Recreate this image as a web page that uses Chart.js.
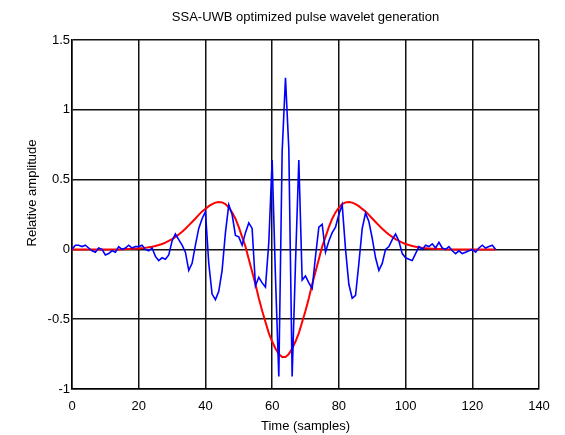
<!DOCTYPE html>
<html>
<head>
<meta charset="utf-8">
<script src="https://cdn.jsdelivr.net/npm/chart.js@4/dist/chart.umd.min.js"></script>
<style>
  html, body { margin: 0; padding: 0; background: #fff; }
  #wrap { width: 565px; height: 435px; }
</style>
</head>
<body>
<div id="wrap"><canvas id="pulse"></canvas></div>
<script>
// ornek numaralari (samples)
const samples = Array.from({ length: 128 }, (_, i) => i);

// mavi: optimize edilmis darbe
const pulseValues = [
   0.00,  0.03,  0.03,  0.02,  0.03,  0.01, -0.01, -0.02,  0.01,  0.00,
  -0.04, -0.03, -0.01, -0.02,  0.02,  0.00,  0.01,  0.03,  0.01,  0.02,
   0.02,  0.03,  0.00, -0.01,  0.01, -0.05, -0.08, -0.06, -0.07, -0.04,
   0.06,  0.11,  0.07,  0.03, -0.02, -0.15, -0.10,  0.03,  0.15,  0.22,
   0.27, -0.10, -0.32, -0.36, -0.30, -0.15,  0.12,  0.32,  0.25,  0.10,
   0.09,  0.03,  0.12,  0.19,  0.15, -0.26, -0.20, -0.24, -0.27,  0.05,
   0.64, -0.20, -0.91,  0.70,  1.23,  0.72, -0.91, -0.10,  0.64, -0.22,
  -0.19, -0.24, -0.28, -0.05,  0.16,  0.18, -0.02,  0.06,  0.12,  0.16,
   0.25,  0.32,  0.00, -0.25, -0.35, -0.33, -0.10,  0.15,  0.26,  0.20,
   0.08, -0.06, -0.15, -0.10,  0.00,  0.02,  0.07,  0.11,  0.06, -0.03,
  -0.06, -0.07, -0.08, -0.03,  0.02,  0.00,  0.03,  0.02,  0.04,  0.01,
   0.05,  0.01,  0.00,  0.02, -0.01, -0.03, -0.01, -0.03, -0.02, -0.01,
   0.00, -0.02,  0.01,  0.03,  0.01,  0.02,  0.03,  0.00
];

// kirmizi: hedef dalga
const targetValues = [
  0, 0, 0, 0, 0, 0, 0, 0, 0, 0,
  0, 0, 0, 0, 0, 0.001, 0.002, 0.003, 0.004, 0.005,
  0.007, 0.009, 0.011, 0.015, 0.019, 0.025, 0.031, 0.039, 0.049, 0.061,
  0.074, 0.09, 0.107, 0.127, 0.148, 0.172, 0.196, 0.221, 0.247, 0.272,
  0.29, 0.31, 0.325, 0.335, 0.34, 0.337, 0.325, 0.30, 0.265, 0.22,
  0.16, 0.09, 0.02, -0.07, -0.16, -0.25, -0.35, -0.44, -0.52, -0.60,
  -0.66, -0.71, -0.75, -0.77, -0.77, -0.75, -0.71, -0.66, -0.60, -0.52,
  -0.44, -0.35, -0.25, -0.16, -0.07, 0.02, 0.09, 0.16, 0.22, 0.265,
  0.30, 0.325, 0.337, 0.34, 0.335, 0.325, 0.31, 0.29, 0.272, 0.247,
  0.221, 0.196, 0.172, 0.148, 0.127, 0.107, 0.09, 0.074, 0.061, 0.049,
  0.039, 0.031, 0.025, 0.019, 0.015, 0.011, 0.009, 0.007, 0.005, 0.004,
  0.003, 0.002, 0.001, 0, 0, 0, 0, 0, 0, 0,
  0, 0, 0, 0, 0, 0, 0, 0
];

// eksen araliklari ve etiketleri
const xTicks = [0, 20, 40, 60, 80, 100, 120, 140];
const yTicks = [-1, -0.5, 0, 0.5, 1, 1.5];
const yLabels = ['-1', '-0.5', '0', '0.5', '1', '1.5'];

const toPoints = (pValues) => pValues.map((v, i) => ({ x: samples[i], y: v }));

const font13 = { family: 'Liberation Sans, Arial, sans-serif', size: 13 };
const gridBlack = { color: '#111', lineWidth: 1.5, drawTicks: false };

// y ekseni basligi, matlab gibi biraz yukarida duruyor
const yTitlePlugin = {
  id: 'yTitle',
  afterDraw: (chart) => {
    const ctx = chart.ctx;
    ctx.save();
    ctx.translate(32, 193);
    ctx.rotate(-Math.PI / 2);
    ctx.font = '13px Liberation Sans, Arial, sans-serif';
    ctx.fillStyle = '#000';
    ctx.textAlign = 'center';
    ctx.textBaseline = 'middle';
    ctx.fillText('Relative amplitude', 0, 0);
    ctx.restore();
  }
};

new Chart(document.getElementById('pulse'), {
  type: 'line',
  data: {
    datasets: [
      {
        label: 'pulse',
        data: toPoints(pulseValues),
        borderColor: '#0000ff',
        borderWidth: 1.6,
        pointRadius: 0,
        tension: 0
      },
      {
        label: 'target',
        data: toPoints(targetValues),
        borderColor: '#ff0000',
        borderWidth: 2,
        pointRadius: 0,
        tension: 0
      }
    ]
  },
  options: {
    responsive: true,
    maintainAspectRatio: false,
    animation: false,
    layout: { padding: { top: 0, right: 26, left: 0, bottom: 0 } },
    plugins: {
      legend: { display: false },
      tooltip: { enabled: false },
      title: {
        display: true,
        fullSize: false,
        text: 'SSA-UWB optimized pulse wavelet generation',
        color: '#000',
        font: { ...font13, weight: 'normal' },
        padding: { top: 10, bottom: 14.4 }
      }
    },
    scales: {
      x: {
        type: 'linear',
        min: xTicks[0],
        max: xTicks[xTicks.length - 1],
        afterBuildTicks: (scale) => { scale.ticks = xTicks.map(v => ({ value: v })); },
        afterFit: (scale) => { scale.height = 46; },
        grid: gridBlack,
        border: { color: '#000', width: 1.5 },
        ticks: { color: '#000', font: font13, padding: 10, maxRotation: 0 },
        title: { display: true, text: 'Time (samples)', color: '#000', font: font13, padding: { top: 0, bottom: 0.5 } }
      },
      y: {
        min: yTicks[0],
        max: yTicks[yTicks.length - 1],
        afterBuildTicks: (scale) => { scale.ticks = yTicks.map(v => ({ value: v })); },
        afterFit: (scale) => { scale.width = 72; },
        grid: gridBlack,
        border: { color: '#000', width: 1.5 },
        ticks: {
          color: '#000',
          font: font13,
          padding: 2,
          callback: (value) => yLabels[yTicks.indexOf(value)]
        },
        title: { display: false }
      }
    }
  },
  plugins: [yTitlePlugin]
});
</script>
</body>
</html>
